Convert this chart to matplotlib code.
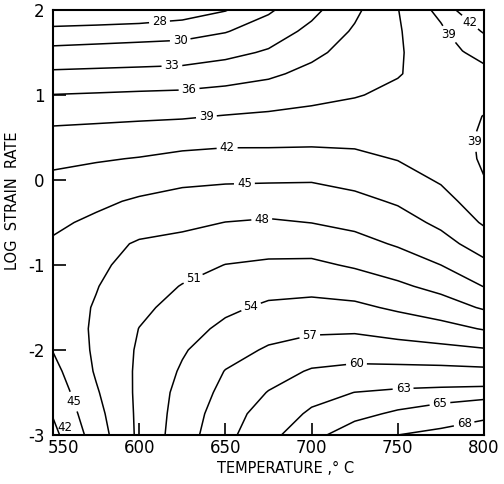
import numpy as np
import matplotlib
matplotlib.use('Agg')
import matplotlib.pyplot as plt
import matplotlib.transforms as mtransforms

plt.rcParams['font.family'] = 'DejaVu Sans'
plt.rcParams['axes.unicode_minus'] = False

# processing map: efficiency of power dissipation (%) on a temperature / log strain rate grid
temps = [550, 575, 600, 625, 650, 675, 700, 725, 750, 775, 800]
log_rates = [-3.0, -2.75, -2.5, -2.25, -2.0, -1.75, -1.5, -1.25, -1.0, -0.75, -0.5,
             -0.25, 0.0, 0.25, 0.5, 0.75, 1.0, 1.25, 1.5, 1.75, 2.0]

# one row per log strain rate (bottom to top), one column per temperature
eff_rows = [
    [41.2, 46.4, 51.6, 55.6, 59.1, 62.4, 64.4, 66.1, 68.0, 68.8, 70.0],      # -3.00
    [42.2, 47.05, 51.6, 55.3, 58.57, 61.4, 63.4, 64.4, 65.34, 66.22, 67.15],  # -2.75
    [43.16, 47.7, 51.6, 54.95, 57.8, 60.13, 62.1, 63.03, 63.46, 63.71, 63.95],  # -2.50
    [44.12, 48.3, 51.5, 54.35, 57.1, 58.75, 60.28, 60.78, 60.85, 60.83, 60.65],  # -2.25
    [45.1, 48.5, 51.35, 53.7, 55.88, 57.33, 58.31, 58.6, 58.2, 57.82, 57.3],  # -2.00
    [46.2, 48.4, 51.05, 52.85, 54.63, 55.92, 56.44, 56.52, 55.79, 55.01, 53.81],  # -1.75
    [46.6, 48.2, 50.38, 51.99, 53.42, 54.5, 54.81, 54.59, 53.56, 52.44, 50.67],  # -1.50
    [46.5, 47.88, 49.64, 51.13, 52.24, 52.99, 53.17, 52.62, 51.51, 50.13, 47.92],  # -1.25
    [46.1, 47.5, 48.9, 50.0, 51.05, 51.44, 51.54, 50.68, 49.55, 48.0, 45.72],  # -1.00
    [45.3, 46.8, 48.35, 48.82, 49.55, 49.88, 49.78, 48.95, 47.7, 46.07, 43.58],  # -0.75
    [44.52, 45.5, 46.65, 47.35, 48.04, 48.33, 47.96, 47.3, 46.18, 44.39, 41.67],  # -0.50
    [43.53, 44.45, 45.36, 46.02, 46.36, 46.56, 46.41, 45.75, 44.68, 43.04, 40.4],  # -0.25
    [42.55, 43.13, 43.77, 44.43, 44.68, 44.74, 44.82, 44.2, 43.23, 41.7, 39.1],  # 0.00
    [41.37, 41.75, 42.13, 42.71, 42.95, 42.92, 42.95, 42.64, 41.88, 41.0, 38.6],  # 0.25
    [39.92, 40.15, 40.4, 40.79, 41.11, 41.15, 41.25, 41.26, 41.1, 40.4, 38.6],  # 0.50
    [38.22, 38.39, 38.58, 38.73, 39.12, 39.43, 39.73, 40.01, 40.33, 40.0, 38.95],  # 0.75
    [36.07, 36.25, 36.45, 36.6, 37.0, 37.5, 38.25, 38.84, 39.55, 39.95, 39.7],  # 1.00
    [33.53, 33.7, 33.86, 34.05, 34.65, 35.48, 36.8, 38.02, 38.85, 40.15, 40.5],  # 1.25
    [30.71, 30.93, 31.15, 31.34, 32.17, 33.35, 35.3, 37.19, 38.75, 40.45, 41.2],  # 1.50
    [28.44, 28.59, 28.78, 29.02, 29.84, 31.43, 33.75, 36.36, 38.8, 40.8, 42.1],  # 1.75
    [26.5, 26.55, 26.65, 27.09, 27.9, 29.6, 32.2, 35.4, 38.95, 41.2, 43.5],  # 2.00
]

# separate patch for the 39 line in the top right corner
t_corner = [750, 775, 787.5, 800]
r_corner = [1.0, 1.5, 1.75, 2.0]
eff_corner = [
    [36.5, 37.0, 37.4, 37.9],
    [37.5, 38.3, 38.95, 39.4],
    [37.8, 38.8, 39.6, 40.3],
    [38.0, 39.3, 40.2, 41.0],
]

levels = [28, 30, 33, 36, 39, 42, 45, 48, 51, 54, 57, 60, 63, 65, 68]

# where the contour values get written
label_pos = [(612, 1.8), (624, 1.56), (619, 1.32), (629, 1.05), (639, 0.74),
             (651, 0.39), (661, -0.02), (671, -0.44), (631, -1.15), (665, -1.5),
             (699, -1.84), (726, -2.18), (753, -2.42), (774.5, -2.64), (788, -2.82),
             (563, -2.6), (792, 1.86), (793, 0.45)]
corner_label_pos = [(777, 1.67)]

fig = plt.figure(figsize=(5.04, 4.84), dpi=100)
ax = fig.add_axes([53/504, 1-435/484, 431/504, 425/484])

eff = np.array(eff_rows)
cs = ax.contour(temps, log_rates, eff, levels=levels, colors='black', linewidths=1.1)
ax.clabel(cs, fmt='%d', manual=label_pos, inline=True, fontsize=8.5, inline_spacing=3)
# short 42 branch in the lower left corner: label set beside the line
small = ax.clabel(cs, fmt='%d', manual=[(552, -2.9)], inline=False, fontsize=8.5)
small[-1].set_position((557, -2.91))

cs2 = ax.contour(t_corner, r_corner, np.array(eff_corner), levels=[39],
                 colors='black', linewidths=1.1)
ax.clabel(cs2, fmt='%d', manual=corner_label_pos, inline=True, fontsize=8.5, inline_spacing=3)

for t in cs.labelTexts + cs2.labelTexts:
    t.set_rotation(0)

ax.set_xlim(550, 800)
ax.set_ylim(-3, 2)
ax.set_xticks([550, 600, 650, 700, 750, 800])
ax.set_yticks([-3, -2, -1, 0, 1, 2])
ax.tick_params(axis='both', direction='in', length=9, width=1.2, labelsize=12)
ax.tick_params(axis='x', pad=3)
ax.tick_params(axis='y', pad=6)
for sp in ax.spines.values():
    sp.set_linewidth(1.5)

# keep the 550 label clear of the -3 label
first = ax.get_xticklabels()[0]
first.set_horizontalalignment('left')
first.set_transform(first.get_transform() +
                    mtransforms.ScaledTranslation(-5/100, 0, fig.dpi_scale_trans))

ax.set_xlabel('TEMPERATURE ,° C', fontsize=10.5)
ax.set_ylabel('LOG  STRAIN  RATE', fontsize=10.5)
ax.xaxis.set_label_coords(0.54, -0.062)
ax.yaxis.set_label_coords(-0.077, 0.55)

fig.savefig('out.png', dpi=100)
